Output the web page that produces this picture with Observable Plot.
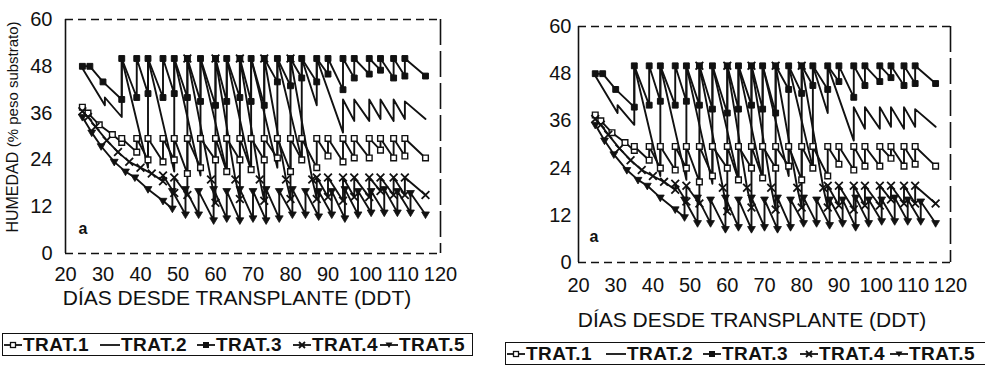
<!DOCTYPE html>
<html><head><meta charset="utf-8">
<script src="https://cdn.jsdelivr.net/npm/d3@7"></script>
<script src="https://cdn.jsdelivr.net/npm/@observablehq/plot@0.6"></script>
<style>
body{margin:0;background:#fff;}
#page{position:relative;width:985px;height:365px;overflow:hidden;background:#fff;font-family:"Liberation Sans",Arial,sans-serif;color:#111;}
.abs{position:absolute;font-family:"Liberation Sans",Arial,sans-serif;}
.xt{font-size:21px;white-space:nowrap;transform:translate(-50%,-50%);}
.yt{font-size:16px;white-space:nowrap;transform:translate(-50%,-50%) rotate(-90deg);}
.tag{font-weight:bold;font-size:16px;transform:translate(-50%,-50%);}
.lg{position:absolute;border:1.5px solid #111;box-sizing:border-box;background:#fff;}
.li{position:absolute;top:0;height:100%;display:flex;align-items:center;font-family:"Liberation Sans",Arial,sans-serif;font-weight:bold;font-size:19px;letter-spacing:0.5px;white-space:nowrap;}
.li svg{margin-right:1px;}
</style></head><body><div id="page"></div>
<script>
// ---- data ----
const tickX = [20,30,40,50,60,70,80,90,100,110,120];
const tickY = [0,12,24,36,48,60];
const seriesNames = ["TRAT.1","TRAT.2","TRAT.3","TRAT.4","TRAT.5"];
const xTitle = "DÍAS DESDE TRANSPLANTE (DDT)";
const yTitleMain = "HUMEDAD";
const yTitleSub = "(% peso substrato)";
const panelTag = "a";

const t1Days = [24.5,26,29,32.5, 35,35, 39,39, 42,42, 46,46, 49,49, 52.5,52.5, 56,56, 60,60, 63,63, 66.5,66.5, 69.5,69.5, 73,73, 76.5,76.5, 80,80, 83,83, 87,87, 90,90, 94,94, 97,97, 101,101, 104,104, 107.5,107.5, 110.5,110.5, 116];
const t1Vals = [37.5,36,33,30.5, 28.5,29.5, 26,29.5, 24,29.5, 23.5,29.5, 24,29.5, 20.5,29.5, 22,29.5, 24,29.5, 21,29.5, 24,29.5, 21.5,29.5, 24,29.5, 24.5,29.5, 21,29.5, 24,29.5, 22,29.5, 25,29.5, 23.5,29.5, 24.5,29.5, 24.5,29.5, 26.5,29.5, 24.5,29.5, 25,29.5, 24.5];

const t2Days = [24.5, 30.5,30.5, 35,35, 42,42, 49,49, 56,56, 63,63, 69.5,69.5, 76.5,76.5, 83,83, 87,87, 94,94, 97,97, 101,101, 104,104, 107.5,107.5, 110.5,110.5, 116];
const t2Vals = [47.5, 38,40, 35,50, 22,50, 21,50, 20,50, 21,50, 21,50, 22,50, 24,50, 38,50, 31,39.5, 34,39.5, 34,39.5, 34.5,39.5, 34,39.5, 34.5,39, 34.5];

const t3Days = [24.5,26.5,30, 35,35, 39,39, 42,42, 46,46, 49,49, 52.5,52.5, 56,56, 60,60, 63,63, 66.5,66.5, 69.5,69.5, 73,73, 76.5,76.5, 80,80, 83,83, 87,87, 90,90, 94,94, 97,97, 101,101, 104,104, 107.5,107.5, 110.5,110.5, 116];
const t3Vals = [48,48,44, 39.5,50, 40,50, 41,50, 40,50, 41,50, 40,50, 39,50, 38,50, 39,50, 40,50, 39,50, 38,50, 44,50, 43,50, 45,50, 44,50, 46,50, 42,50, 45,50, 46,50, 47,50, 45,50, 45.5,50, 45.5];

const t4Days = [24.5,26,28,31,34,37,40,43, 46,46, 49,49, 52.5,52.5, 58.8, 60,60, 65.3, 66.5,66.5, 71.8, 73,73, 78.8, 80,80, 85.8, 87,87, 90,90, 94,94, 97,97, 101,101, 104,104, 107.5,107.5, 110.5,110.5, 116];
const t4Vals = [36.5,35,32.5,29,26,23.5,22,20.5, 18.5,20, 15.5,19.5, 15,50, 19, 13,50, 19, 14,50, 19, 13.5,50, 19, 14,50, 19, 14,19.5, 14.5,19.5, 13.5,19.5, 14.5,19.5, 14.5,19.5, 16,19.5, 15,19.5, 15,19.5, 15];

const t5Days = [24.5,27,29.5,33,36,38.5,42,46, 48.5,48.5, 52,52, 55.5,55.5, 59.5,59.5, 63,63, 66.5,66.5, 70,70, 73.5,73.5, 77,77, 80.5,80.5, 84,84, 87.5,87.5, 91,91, 94.5,94.5, 98,98, 101.5,101.5, 105,105, 108.5,108.5, 112,112, 116];
const t5Vals = [35,31,27.5,23.5,21,19.5,16.5,13.5, 11.5,16, 10,16.5, 10,16, 8.5,16.5, 9,16, 8.5,16.5, 9,16, 8.5,16.5, 9,16, 10,16.5, 10,16, 9.5,16, 10,16, 9,16.5, 10,16, 10.5,16, 10.5,16.5, 10.5,16, 10.5,15.5, 10];

// ---- build tables ----
const toRows = (days, vals) => days.map((d, i) => ({day: d, val: vals[i]}));
const rows = [toRows(t1Days,t1Vals), toRows(t2Days,t2Vals), toRows(t3Days,t3Vals), toRows(t4Days,t4Vals), toRows(t5Days,t5Vals)];

const triDown = {draw(ctx, size) {
  const r = Math.sqrt(size / Math.PI);
  ctx.moveTo(-r * 1.15, -r * 0.75);
  ctx.lineTo(r * 1.15, -r * 0.75);
  ctx.lineTo(0, r * 1.2);
  ctx.closePath();
}};
const markerStyles = [
  {symbol: "square", fill: "white", stroke: "#111", strokeWidth: 1.4, r: 3.2},
  null,
  {symbol: "square", fill: "#111", stroke: "#111", strokeWidth: 1, r: 3.3},
  {symbol: "times", fill: "none", stroke: "#111", strokeWidth: 1.8, r: 3.6},
  {symbol: triDown, fill: "#111", stroke: "#111", strokeWidth: 0.8, r: 3.4}
];

function panel(o) {
  const marks = [
    Plot.ruleY([tickY[0], tickY[tickY.length-1]], {stroke: "#111", strokeWidth: 1.6, strokeDasharray: "8,5"}),
    Plot.ruleX([tickX[0]], {stroke: "#111", strokeWidth: 1.6}),
    Plot.ruleX([tickX[tickX.length-1]], {stroke: "#111", strokeWidth: 1.6, strokeDasharray: "26,6"})
  ];
  rows.forEach(r => marks.push(Plot.line(r, {x: "day", y: "val", stroke: "#111", strokeWidth: 1.9})));
  rows.forEach((r, i) => { if (markerStyles[i]) marks.push(Plot.dot(r, {x: "day", y: "val", ...markerStyles[i]})); });
  return Plot.plot({
    width: o.width, height: o.height,
    marginLeft: o.ml, marginRight: o.mr, marginTop: o.mt, marginBottom: o.mb,
    x: {domain: [tickX[0], tickX[tickX.length-1]], ticks: tickX, tickSize: 0, tickPadding: o.px, label: null, tickFormat: d => String(d)},
    y: {domain: [tickY[0], tickY[tickY.length-1]], ticks: tickY, tickSize: 0, tickPadding: o.py, label: null, tickFormat: d => String(d)},
    style: {fontFamily: '"Liberation Sans", Arial, sans-serif', fontSize: "20px", color: "#111", background: "transparent", overflow: "visible"},
    marks
  });
}

const page = document.getElementById("page");
function place(el, left, top) { el.style.position = "absolute"; el.style.left = left + "px"; el.style.top = top + "px"; page.appendChild(el); return el; }
function div(cls, html, left, top) { const d = document.createElement("div"); d.className = cls; d.innerHTML = html; return place(d, left, top); }

place(panel({width: 490, height: 290, ml: 65, mr: 50, mt: 19, mb: 37, px: 13, py: 13}), 0, 0);
place(panel({width: 485, height: 300, ml: 78, mr: 35, mt: 26, mb: 38, px: 15, py: 7}), 500, 0);

div("abs xt", xTitle, 237, 298);
div("abs xt", xTitle, 752, 320);
div("abs yt", yTitleMain + ' <span style="font-size:15px">' + yTitleSub + '</span>', 13, 127);
div("abs tag", panelTag, 83, 229);
div("abs tag", panelTag, 594, 237);

function icon(i, w) {
  const ns = "http://www.w3.org/2000/svg";
  const s = document.createElementNS(ns, "svg");
  s.setAttribute("width", w); s.setAttribute("height", 14);
  let h = `<line x1="0" y1="7" x2="${w}" y2="7" stroke="#111" stroke-width="1.8"/>`;
  const c = w / 2;
  if (i === 0) h += `<rect x="${c-2.5}" y="4.5" width="5" height="5" fill="#fff" stroke="#111" stroke-width="1.3"/>`;
  if (i === 2) h += `<rect x="${c-3}" y="4" width="6" height="6" fill="#111"/>`;
  if (i === 3) h += `<path d="M${c-3},4L${c+3},10M${c-3},10L${c+3},4" stroke="#111" stroke-width="1.8"/>`;
  if (i === 4) h += `<path d="M${c-3.5},4.5L${c+3.5},4.5L${c},10Z" fill="#111"/>`;
  s.innerHTML = h;
  return s;
}
function legend(left, top, width, height, offs) {
  const box = document.createElement("div");
  box.className = "lg";
  box.style.width = width + "px"; box.style.height = height + "px";
  place(box, left, top);
  seriesNames.forEach((n, i) => {
    const it = document.createElement("div");
    it.className = "li";
    it.style.left = offs[i] + "px";
    it.appendChild(icon(i, i === 1 ? 20 : 18));
    const t = document.createElement("span"); t.textContent = n; it.appendChild(t);
    box.appendChild(it);
  });
}
legend(2, 333, 471, 23, [1, 97, 194, 290, 377]);
legend(505, 342, 500, 23, [1, 100, 197, 294, 384]);
</script></body></html>
